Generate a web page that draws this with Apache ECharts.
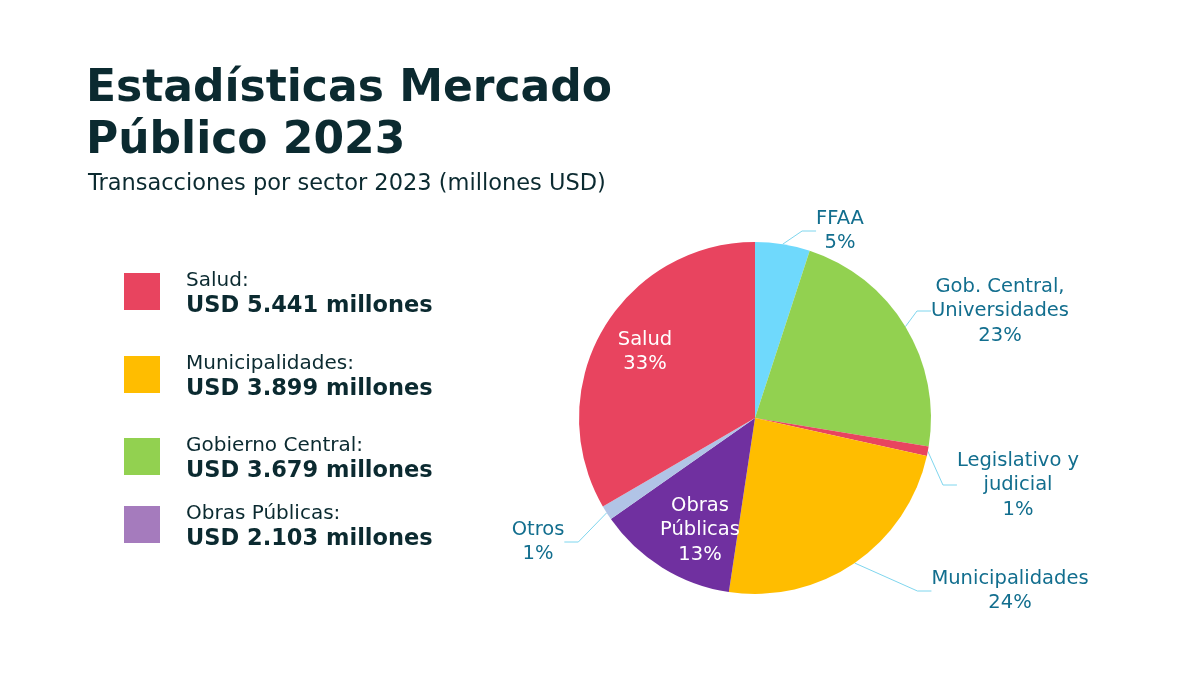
<!DOCTYPE html>
<html>
<head>
<meta charset="utf-8">
<script src="https://cdn.jsdelivr.net/npm/echarts@6/dist/echarts.min.js"></script>
<style>
html, body { margin: 0; padding: 0; background: #fff; }
#main { width: 1200px; height: 675px; }
</style>
</head>
<body>
<div id="main"></div>
<script>
// datos del grafico
var sectores = ['FFAA', 'Gob. Central,\nUniversidades', 'Legislativo y\njudicial', 'Municipalidades', 'Obras\nPúblicas', 'Otros', 'Salud'];
var montos = [820, 3679, 140, 3899, 2103, 220, 5441];
var colores = ['#6fd9fc', '#92d150', '#e8445f', '#ffbd00', '#7030a0', '#b1c4e6', '#e8445f'];
var etiquetaDentro = [false, false, false, false, true, false, true];
// posicion de las etiquetas (centro del bloque de texto)
var posEtiquetas = [[840, 231], [1000, 311], [1018, 485], [1010, 591], [700, 530], [538, 542], [645, 352]];

// leyenda a la izquierda
var leyendaNombres = ['Salud:', 'Municipalidades:', 'Gobierno Central:', 'Obras Públicas:'];
var leyendaMontos = ['USD 5.441 millones', 'USD 3.899 millones', 'USD 3.679 millones', 'USD 2.103 millones'];
var leyendaColores = ['#e8445f', '#ffbd00', '#92d150', '#a57bbd'];
var leyendaY = [273, 356, 438, 506];

var fuente = '"DejaVu Sans", Verdana, sans-serif';
var oscuro = '#0b2a30';
var teal = '#126e8e';

var chart = echarts.init(document.getElementById('main'));

var graficos = [];
leyendaNombres.forEach(function (n, i) {
    graficos.push({
        type: 'rect',
        shape: { x: 124, y: leyendaY[i], width: 36, height: 37 },
        style: { fill: leyendaColores[i] }
    });
    graficos.push({
        type: 'text',
        x: 186, y: leyendaY[i] + 8,
        style: { text: n, font: '20px ' + fuente, fill: oscuro, textVerticalAlign: 'middle' }
    });
    graficos.push({
        type: 'text',
        x: 186, y: leyendaY[i] + 33,
        style: { text: leyendaMontos[i], font: 'bold 22.5px ' + fuente, fill: oscuro, textVerticalAlign: 'middle' }
    });
});
graficos.push({
    type: 'text',
    x: 86, y: 64,
    style: { text: 'Estadísticas Mercado\nPúblico 2023', font: 'bold 44px ' + fuente, fill: oscuro, lineHeight: 52 }
});
graficos.push({
    type: 'text',
    x: 88, y: 184,
    style: { text: 'Transacciones por sector 2023 (millones USD)', font: '22.5px ' + fuente, fill: oscuro, textVerticalAlign: 'middle' }
});

var datos = sectores.map(function (s, i) {
    return {
        name: s,
        value: montos[i],
        itemStyle: { color: colores[i] },
        label: etiquetaDentro[i] ? { position: 'inside', color: '#fff' } : { position: 'outside', color: teal },
        labelLine: { show: !etiquetaDentro[i] }
    };
});

var option = {
    backgroundColor: '#fff',
    animation: false,
    graphic: graficos,
    series: [{
        type: 'pie',
        center: [755, 418],
        radius: [0, 176],
        startAngle: 90,
        clockwise: true,
        percentPrecision: 0,
        avoidLabelOverlap: false,
        itemStyle: { borderColor: '#fff', borderWidth: 0 },
        label: {
            formatter: '{b}\n{d}%',
            fontFamily: fuente,
            fontSize: 19.5,
            lineHeight: 24.5,
            align: 'center'
        },
        labelLine: {
            length: 12,
            length2: 14,
            lineStyle: { color: '#7fd6ee', width: 1 }
        },
        labelLayout: function (p) {
            var pos = posEtiquetas[p.dataIndex];
            return { x: pos[0], y: pos[1], align: 'center', verticalAlign: 'middle' };
        },
        data: datos
    }]
};
chart.setOption(option);
</script>
</body>
</html>
